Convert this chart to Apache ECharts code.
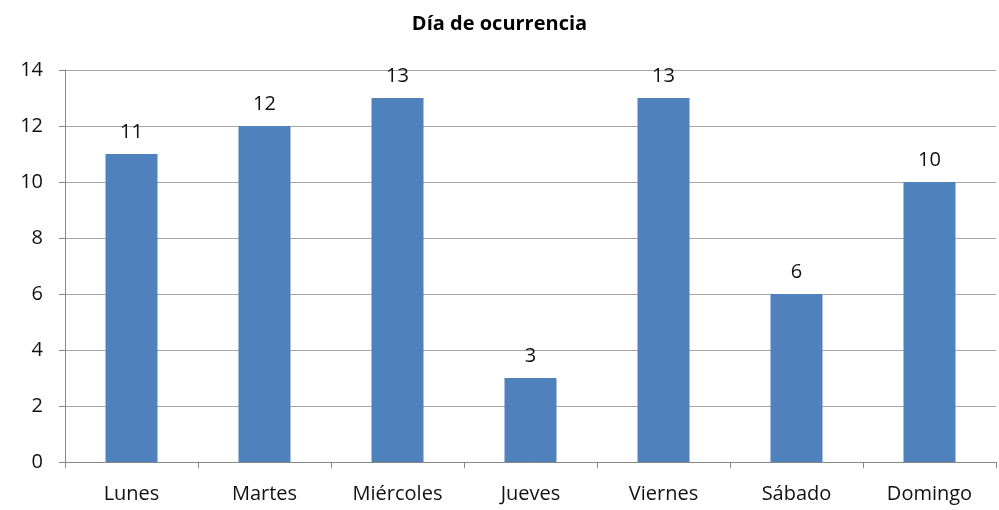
<!DOCTYPE html>
<html>
<head>
<meta charset="utf-8">
<script src="https://cdn.jsdelivr.net/npm/echarts@6/dist/echarts.min.js"></script>
<style>
  html, body { margin: 0; padding: 0; background: #fff; }
  #chart { width: 999px; height: 510px; }
</style>
</head>
<body>
<div id="chart"></div>
<script>
const days = ['Lunes', 'Martes', 'Miércoles', 'Jueves', 'Viernes', 'Sábado', 'Domingo'];
const counts = [11, 12, 13, 3, 13, 6, 10];
const yTicks = { min: 0, max: 14, step: 2 };

const font = 'Open Sans, Liberation Sans, sans-serif';

const chart = echarts.init(document.getElementById('chart'));
chart.setOption({
    animation: false,
    title: {
        text: 'Día de ocurrencia',
        left: 'center',
        top: 9,
        textStyle: { fontFamily: font, fontSize: 20, fontWeight: 'bold', color: '#000' }
    },
    grid: { left: 65, right: 3, top: 70, bottom: 48 },
    xAxis: {
        type: 'category',
        data: days,
        axisLine: { lineStyle: { color: '#888', width: 1 } },
        axisTick: { show: true, alignWithLabel: false, length: 6, lineStyle: { color: '#888' } },
        axisLabel: { fontFamily: font, fontSize: 20, color: '#111', margin: 22 }
    },
    yAxis: {
        type: 'value',
        min: yTicks.min,
        max: yTicks.max,
        interval: yTicks.step,
        axisLine: { show: true, lineStyle: { color: '#888', width: 1 } },
        axisTick: { show: true, length: 6, lineStyle: { color: '#888' } },
        axisLabel: { fontFamily: font, fontSize: 20, color: '#111', margin: 22 },
        splitLine: { lineStyle: { color: '#a6a6a6', width: 1 } }
    },
    series: [{
        type: 'bar',
        data: counts,
        barWidth: 52,
        itemStyle: { color: '#4f81bd' },
        label: {
            show: true,
            position: 'top',
            distance: 12,
            fontFamily: font,
            fontSize: 20,
            color: '#111'
        }
    }]
});
</script>
</body>
</html>
